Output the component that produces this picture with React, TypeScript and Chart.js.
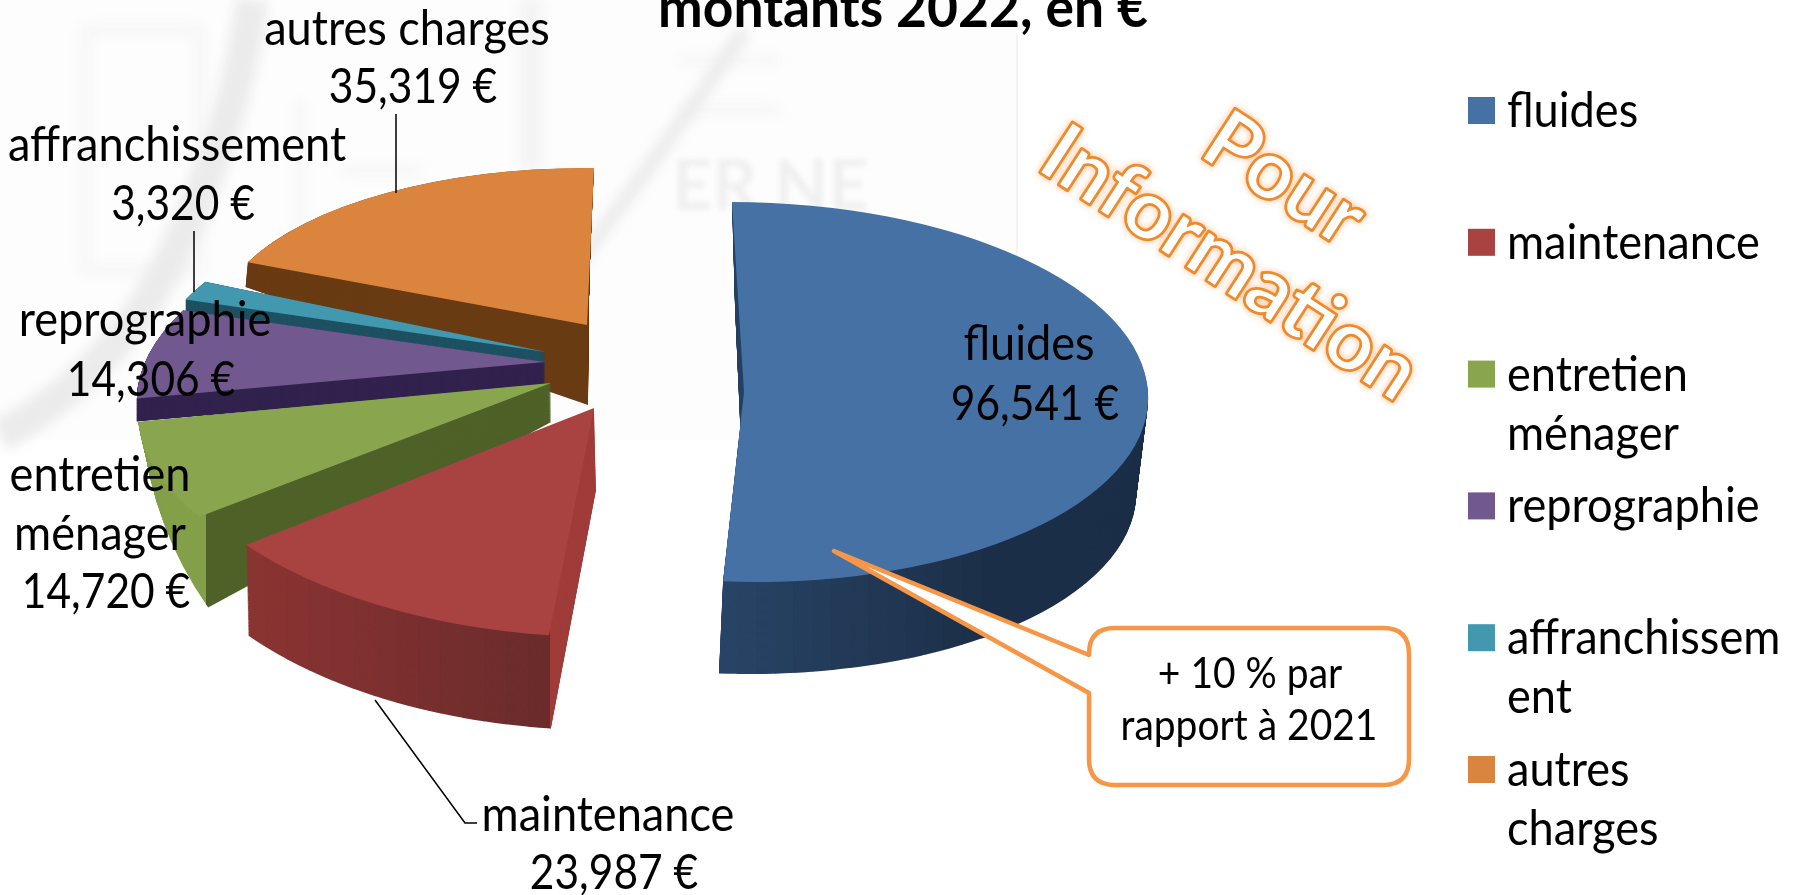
import React, { useEffect, useRef } from "react";
import { Chart, registerables } from "chart.js";

Chart.register(...registerables);

const W = 1798;
const H = 895;

const titleText = "montants 2022, en €";
const categories = ["fluides", "maintenance", "entretien ménager", "reprographie", "affranchissement", "autres charges"];
const amounts = [96541, 23987, 14720, 14306, 3320, 35319];
const topColors = ["#4671a5", "#a84341", "#89a54e", "#71588f", "#4198af", "#db843d"];
const legendLines = [["fluides"], ["maintenance"], ["entretien", "ménager"], ["reprographie"], ["affranchissem", "ent"], ["autres", "charges"]];
const calloutLines = ["+ 10 % par", "rapport à 2021"];
const stampLines = ["Pour", "Information"];

type Face = { a: number[]; ex: number[]; ey: number[] };
type Band = { x0: number; x1: number; color: string };

const hex = (c: string) => [1, 3, 5].map((i) => parseInt(c.slice(i, i + 2), 16));
function bands(x0: number, x1: number, c0: string, c1: string, n: number): Band[] {
  const a = hex(c0);
  const b = hex(c1);
  const out: Band[] = [];
  for (let i = 0; i < n; i++) {
    const t = n > 1 ? i / (n - 1) : 0;
    out.push({
      x0: x0 + ((x1 - x0) * i) / n,
      x1: x0 + ((x1 - x0) * (i + 1)) / n,
      color: `rgb(${a.map((v, k) => Math.round(v + (b[k] - v) * t)).join(",")})`,
    });
  }
  return out;
}

// Projection of each slice of the 3D exploded pie (top face, bottom face)
const projection: { top: Face; bottom: Face; sides: Band[] }[] = [
  {
    top: { a: [744, 392], ex: [404, 0], ey: [12, 190] },
    bottom: { a: [743, 490], ex: [393, 0], ey: [8, 184] },
    sides: [...bands(700, 1000, "#2a4668", "#1c2f48", 16), { x0: 1000, x1: 1200, color: "#1c2f48" }],
  },
  {
    top: { a: [594, 408], ex: [443, 11], ey: [-9, 229] },
    bottom: { a: [596, 490], ex: [443, 9], ey: [-9, 240] },
    sides: [...bands(200, 550, "#8f3634", "#6c2c2c", 16), { x0: 550, x1: 640, color: "#a03d3b" }],
  },
  {
    top: { a: [551, 383], ex: [410, 3], ey: [-55, 214] },
    bottom: { a: [551, 422], ex: [407, 61], ey: [-45, 366] },
    sides: [{ x0: 100, x1: 206, color: "#84a04a" }, { x0: 206, x1: 640, color: "#4f6229" }],
  },
  {
    top: { a: [545, 362], ex: [400, 0], ey: [-81, 187] },
    bottom: { a: [545, 385], ex: [400, 0], ey: [-81, 187] },
    sides: [{ x0: 100, x1: 640, color: "#33234f" }],
  },
  {
    top: { a: [546, 352], ex: [390, 5], ey: [-52, 172] },
    bottom: { a: [546, 368], ex: [390, 5], ey: [-52, 172] },
    sides: [{ x0: 100, x1: 640, color: "#1f5263" }],
  },
  {
    top: { a: [587, 325], ex: [370, 3], ey: [-7, 157] },
    bottom: { a: [588, 405], ex: [371, 45], ey: [-1, 200] },
    sides: [{ x0: 200, x1: 640, color: "#6a3c14" }],
  },
];
const paintOrder = [5, 4, 3, 2, 1, 0];

const labelPlaces: { x: number; y: number; lh: number }[] = [
  { x: 1029, y: 360, lh: 60 },
  { x: 608, y: 831, lh: 58 },
  { x: 100, y: 491, lh: 58.5 },
  { x: 145, y: 336, lh: 60 },
  { x: 177, y: 161, lh: 59 },
  { x: 407, y: 45, lh: 58 },
];
const labelRows = (i: number) => {
  const name = i === 2 ? categories[i].split(" ") : [categories[i]];
  return { names: name, value: `${amounts[i].toLocaleString("en-US")} €` };
};

const FONT = "Lato, 'Open Sans', sans-serif";

function txt(ctx: CanvasRenderingContext2D, s: string, x: number, y: number, font: string, squeeze: number, align: CanvasTextAlign = "center") {
  ctx.save();
  ctx.translate(x, y);
  ctx.scale(squeeze, 1);
  ctx.font = font;
  ctx.fillStyle = "#000";
  ctx.textAlign = align;
  ctx.textBaseline = "alphabetic";
  ctx.fillText(s, 0, 0);
  ctx.restore();
}

const backdrop = {
  id: "backdrop",
  beforeDraw(chart: any) {
    const ctx: CanvasRenderingContext2D = chart.ctx;
    ctx.save();
    ctx.fillStyle = "#fff";
    ctx.fillRect(0, 0, W, H);
    ctx.fillStyle = "#fdfdfd";
    ctx.fillRect(0, 0, 1017, 440);
    ctx.strokeStyle = "#f3f3f3";
    ctx.lineWidth = 2;
    ctx.beginPath();
    ctx.moveTo(1017, 35);
    ctx.lineTo(1017, 270);
    ctx.stroke();
    ctx.filter = "blur(6px)";
    ctx.strokeStyle = "#f6f6f6";
    ctx.lineWidth = 10;
    ctx.beginPath();
    ctx.rect(85, 30, 115, 240);
    ctx.moveTo(300, 100);
    ctx.lineTo(300, 230);
    ctx.moveTo(340, 170);
    ctx.lineTo(420, 170);
    ctx.moveTo(680, 60);
    ctx.lineTo(780, 60);
    ctx.moveTo(680, 110);
    ctx.lineTo(780, 110);
    ctx.stroke();
    ctx.strokeStyle = "#ebebeb";
    ctx.lineCap = "butt";
    ctx.lineWidth = 32;
    ctx.beginPath();
    ctx.moveTo(0, 436);
    ctx.quadraticCurveTo(120, 370, 175, 250);
    ctx.quadraticCurveTo(235, 130, 252, 0);
    ctx.stroke();
    ctx.lineWidth = 14;
    ctx.beginPath();
    ctx.moveTo(549, 300);
    ctx.quadraticCurveTo(650, 170, 745, 30);
    ctx.stroke();
    ctx.strokeStyle = "#f3f3f3";
    ctx.lineWidth = 22;
    ctx.beginPath();
    ctx.moveTo(531, 0);
    ctx.lineTo(531, 170);
    ctx.stroke();
    ctx.filter = "blur(2.5px)";
    ctx.font = "bold 70px " + FONT;
    ctx.fillStyle = "#f0f0f0";
    ctx.textBaseline = "alphabetic";
    ctx.fillText("ER NE", 672, 210);
    ctx.restore();
  },
};

const pie3d = {
  id: "pie3d",
  beforeDatasetsDraw(chart: any) {
    const ctx: CanvasRenderingContext2D = chart.ctx;
    const arcs = chart.getDatasetMeta(0).data;
    const place = (arc: any, f: Face) => {
      const R = arc.outerRadius;
      ctx.translate(f.a[0], f.a[1]);
      ctx.transform(f.ex[0] / R, f.ex[1] / R, f.ey[0] / R, f.ey[1] / R, 0, 0);
      ctx.translate(-arc.x, -arc.y);
    };
    const paint = (arc: any, f: Face, color: string) => {
      const tinted = Object.create(arc, { options: { value: { ...arc.options, backgroundColor: color } } });
      ctx.save();
      place(arc, f);
      arc.draw.call(tinted, ctx);
      ctx.restore();
    };
    const mix = (p: Face, q: Face, t: number): Face => ({
      a: p.a.map((v, i) => v + (q.a[i] - v) * t),
      ex: p.ex.map((v, i) => v + (q.ex[i] - v) * t),
      ey: p.ey.map((v, i) => v + (q.ey[i] - v) * t),
    });
    const STEPS = 100;
    for (const i of paintOrder) {
      const arc = arcs[i];
      const pr = projection[i];
      for (const b of pr.sides) {
        ctx.save();
        ctx.beginPath();
        ctx.rect(b.x0, 0, b.x1 - b.x0 + 0.5, H);
        ctx.clip();
        for (let s = 0; s < STEPS; s++) paint(arc, mix(pr.bottom, pr.top, s / STEPS), b.color);
        ctx.restore();
      }
      paint(arc, pr.top, topColors[i]);
    }
    return false;
  },
};

const annotations = {
  id: "annotations",
  afterDraw(chart: any) {
    const ctx: CanvasRenderingContext2D = chart.ctx;
    ctx.save();

    // leader lines
    ctx.strokeStyle = "#000";
    ctx.lineWidth = 1.5;
    ctx.beginPath();
    ctx.moveTo(396, 114);
    ctx.lineTo(396, 193);
    ctx.moveTo(194, 231);
    ctx.lineTo(194, 292);
    ctx.moveTo(375, 700);
    ctx.lineTo(465, 823);
    ctx.lineTo(477, 823);
    ctx.stroke();

    // title
    txt(ctx, titleText, 903, 27, "bold 56px " + FONT, 0.953);

    // data labels
    const labelFont = "48px " + FONT;
    labelPlaces.forEach((p, i) => {
      const { names, value } = labelRows(i);
      names.forEach((row, k) => txt(ctx, row, p.x, p.y + k * p.lh, labelFont, 0.94));
      txt(ctx, value, p.x + 6, p.y + names.length * p.lh, labelFont, 0.885);
    });

    // legend
    const legendTop = 97;
    const legendStep = 131.8;
    legendLines.forEach((rows, i) => {
      const y = legendTop + i * legendStep;
      ctx.fillStyle = topColors[i];
      ctx.fillRect(1468, y, 27, 27);
      rows.forEach((row, k) => txt(ctx, row, 1507, y + 30 + k * 59, labelFont, 0.94, "left"));
    });

    // callout
    const l = 1089, r = 1409, t = 628, b = 785, rad = 26;
    ctx.beginPath();
    ctx.moveTo(l + rad, t);
    ctx.lineTo(r - rad, t);
    ctx.quadraticCurveTo(r, t, r, t + rad);
    ctx.lineTo(r, b - rad);
    ctx.quadraticCurveTo(r, b, r - rad, b);
    ctx.lineTo(l + rad, b);
    ctx.quadraticCurveTo(l, b, l, b - rad);
    ctx.lineTo(l, 693);
    ctx.lineTo(834, 551);
    ctx.lineTo(l, 655);
    ctx.lineTo(l, t + rad);
    ctx.quadraticCurveTo(l, t, l + rad, t);
    ctx.closePath();
    ctx.fillStyle = "#fff";
    ctx.fill();
    ctx.lineJoin = "round";
    ctx.strokeStyle = "#f79646";
    ctx.lineWidth = 4.5;
    ctx.stroke();
    txt(ctx, calloutLines[0], 1250, 688, "42px " + FONT, 0.928);
    txt(ctx, calloutLines[1], 1249, 740, "42px " + FONT, 0.928);

    // stamp
    const stamp = (s: string, x: number, y: number) => {
      ctx.save();
      ctx.translate(x, y);
      ctx.rotate((33 * Math.PI) / 180);
      ctx.font = "bold 82px " + FONT;
      ctx.textAlign = "center";
      ctx.textBaseline = "middle";
      ctx.lineJoin = "round";
      ctx.shadowColor = "rgba(247,150,70,0.7)";
      ctx.shadowBlur = 6;
      ctx.strokeStyle = "#ee8a2c";
      ctx.lineWidth = 4;
      ctx.strokeText(s, 0, 0);
      ctx.shadowBlur = 0;
      ctx.fillStyle = "#fff";
      ctx.fillText(s, 0, 0);
      ctx.strokeStyle = "#ee8a2c";
      ctx.lineWidth = 1.5;
      ctx.strokeText(s, 0, 0);
      ctx.restore();
    };
    stamp(stampLines[0], 1284, 180);
    stamp(stampLines[1], 1230, 264);

    ctx.restore();
  },
};

export default function App() {
  const ref = useRef<HTMLCanvasElement>(null);
  useEffect(() => {
    if (!ref.current) return;
    const chart = new Chart(ref.current, {
      type: "pie",
      data: {
        labels: categories,
        datasets: [{ data: amounts, backgroundColor: topColors, borderWidth: 0 }],
      },
      options: {
        animation: false,
        responsive: false,
        plugins: { legend: { display: false }, tooltip: { enabled: false }, title: { display: false } },
      },
      plugins: [backdrop, pie3d, annotations],
    } as any);
    return () => chart.destroy();
  }, []);
  return (
    <div style={{ position: "absolute", left: 0, top: 0, width: W, height: H }}>
      <canvas ref={ref} width={W} height={H} style={{ display: "block", width: W, height: H }} />
    </div>
  );
}
